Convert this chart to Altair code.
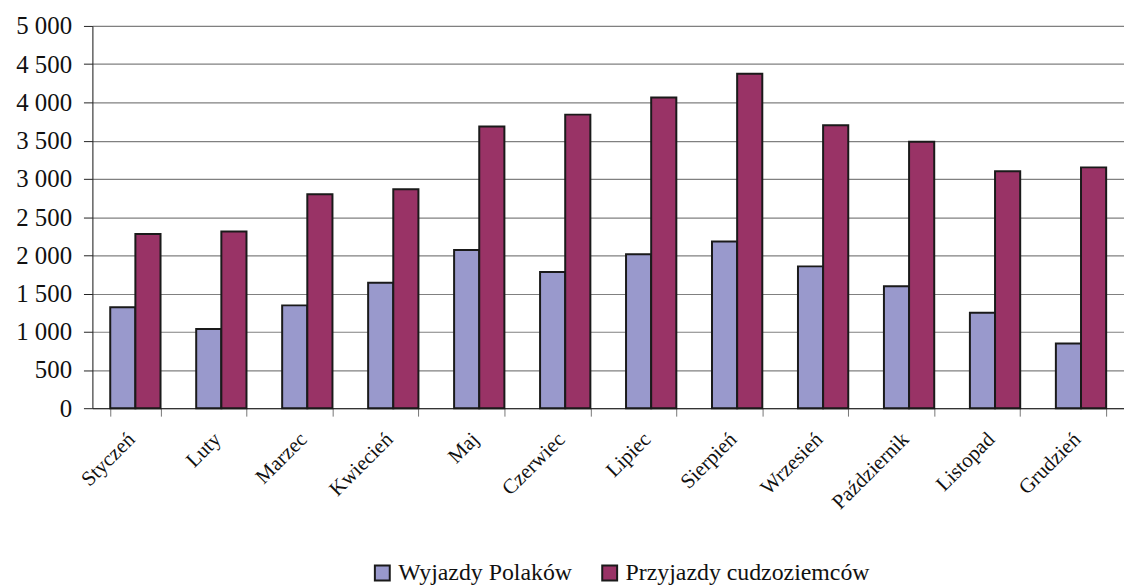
import altair as alt
import pandas as pd

months = ["Styczeń", "Luty", "Marzec", "Kwiecień", "Maj", "Czerwiec", "Lipiec",
          "Sierpień", "Wrzesień", "Październik", "Listopad", "Grudzień"]
series_names = ["Wyjazdy Polaków", "Przyjazdy cudzoziemców"]
wyjazdy = [1320, 1035, 1345, 1640, 2070, 1780, 2015, 2180, 1855, 1595, 1250, 845]
przyjazdy = [2280, 2310, 2800, 2865, 3685, 3840, 4065, 4375, 3700, 3485, 3100, 3150]
colors = ["#9999CC", "#993366"]

rows = []
for i, m in enumerate(months):
    rows.append({"month": m, "series": series_names[0], "value": wyjazdy[i]})
    rows.append({"month": m, "series": series_names[1], "value": przyjazdy[i]})
df = pd.DataFrame(rows)

font = "Liberation Serif"

chart = alt.Chart(df).mark_bar(stroke="#1a1a1a", strokeWidth=2).encode(
    x=alt.X("month:N", sort=months, title=None,
            scale=alt.Scale(paddingInner=0.415, paddingOuter=0.2075),
            axis=alt.Axis(tickBand="extent", labelAngle=315, labelAlign="right",
                          labelBaseline="middle", labelFont=font, labelFontSize=21,
                          labelColor="#111", labelPadding=20, tickSize=8,
                          tickColor="#777", domainColor="#222", grid=False,
                          labelOffset=-4, labelLimit=0)),
    xOffset=alt.XOffset("series:N", sort=series_names),
    y=alt.Y("value:Q", title=None,
            scale=alt.Scale(domain=[0, 5000], nice=False),
            axis=alt.Axis(values=list(range(0, 5001, 500)), grid=True,
                          gridColor="#808080", gridWidth=1.2,
                          labelExpr="replace(format(datum.value, ','), ',', ' ')",
                          labelFont=font, labelFontSize=25, labelColor="#111",
                          labelPadding=12, tickSize=9, tickColor="#222",
                          domainColor="#222")),
    color=alt.Color("series:N", sort=series_names,
                    scale=alt.Scale(domain=series_names, range=colors),
                    legend=alt.Legend(title=None, orient="none", direction="horizontal",
                                      legendX=280, legendY=539,
                                      symbolType="square", symbolSize=225,
                                      symbolStrokeColor="#1a1a1a", symbolStrokeWidth=2,
                                      labelFont=font, labelFontSize=24, labelColor="#111",
                                      columnPadding=25, labelOffset=4, labelLimit=0)),
).properties(
    width=1039, height=385,
    autosize=alt.AutoSizeParams(type="none"),
    padding={"left": 85, "top": 16, "right": 0, "bottom": 176},
).configure_view(stroke=None).configure(background="white")

chart.save("out.html", embed_options={"renderer": "svg", "actions": False})
